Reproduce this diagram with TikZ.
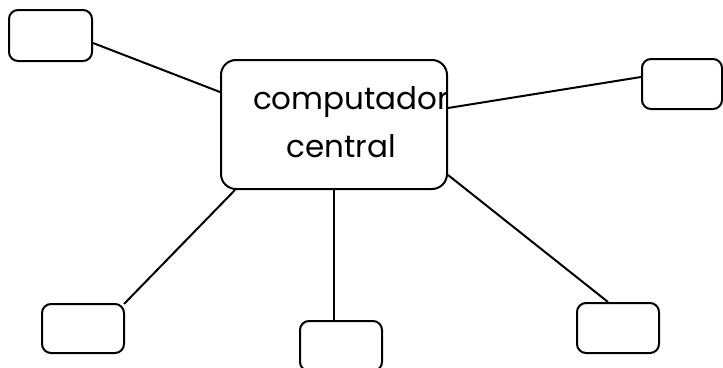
\documentclass[tikz,border=0pt]{standalone}
\usepackage{fontspec}
\setmainfont{Poppins}
\begin{document}
\begin{tikzpicture}[x=1pt,y=-1pt,
  box/.style={draw=black, line width=2pt, rounded corners=9pt, minimum width=82pt, minimum height=50pt, inner sep=0pt},
  hub/.style={draw=black, line width=2pt, rounded corners=15pt, minimum width=226pt, minimum height=129pt, inner sep=0pt},
  label/.style={font=\fontsize{31}{33}\selectfont, anchor=base, inner sep=0pt},
  link/.style={line width=2pt}]
\useasboundingbox[fill=white] (0,0) rectangle (723,367);
% central computer
\node[hub] (c) at (334,124.5) {};
\node[label] (t1) at (351,109) {computador};
\node[label] (t2) at (341,157) {central};
% terminals
\node[box, minimum width=83pt, minimum height=51pt] (tl) at (50.5,35.5) {};
\node[box, minimum width=80pt] (tr) at (682,84) {};
\node[box, minimum height=49pt] (bl) at (83,328.5) {};
\node[box] (bm) at (341,346) {};
\node[box] (br) at (618,328) {};
% connections
\draw[link] ([yshift=-7.5pt]tl.east) -- ([yshift=32.5pt]c.west);
\draw[link] ([yshift=16.5pt]c.east) -- ([yshift=7pt]tr.west);
\draw[link] ([xshift=15pt]c.south west) -- ([xshift=-1pt,yshift=-1pt]bl.north east);
\draw[link] (c.south) -- (c.south |- bm.north);
\draw[link] ([yshift=-50.5pt]c.east) -- ([xshift=-10pt]br.north);
\end{tikzpicture}
\end{document}
